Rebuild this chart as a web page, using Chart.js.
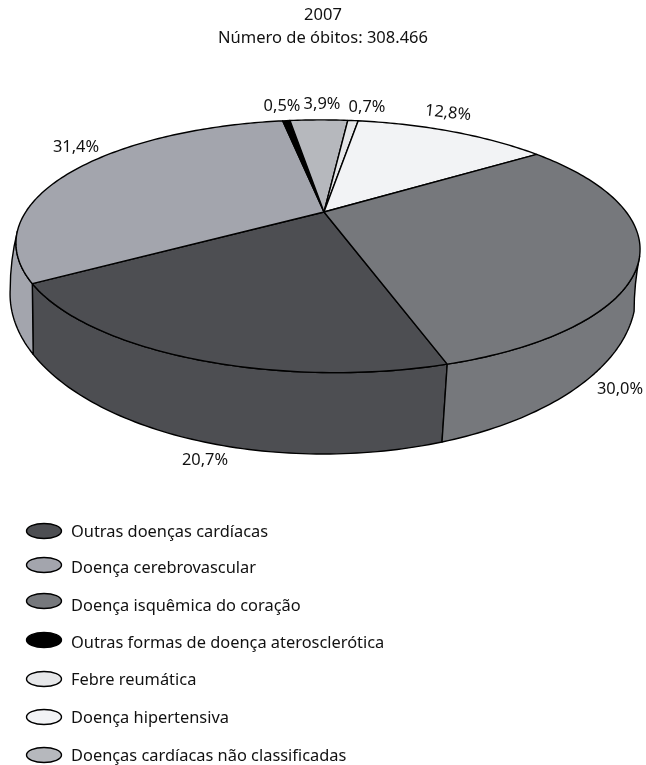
<!DOCTYPE html>
<html lang="pt-BR">
<head>
<meta charset="utf-8">
<title>Óbitos 2007</title>
<script src="https://cdn.jsdelivr.net/npm/chart.js@4"></script>
<style>
  html, body { margin: 0; padding: 0; background: #fff; }
  canvas { display: block; }
</style>
</head>
<body>
<canvas id="grafico" width="646" height="765"></canvas>
<script>
const categorias = [
  "Outras doenças cardíacas",
  "Doença cerebrovascular",
  "Outras formas de doença aterosclerótica",
  "Doenças cardíacas não classificadas",
  "Febre reumática",
  "Doença hipertensiva",
  "Doença isquêmica do coração",
];
const valores = [20.7, 31.4, 0.5, 3.9, 0.7, 12.8, 30.0];
const cores = ["#4d4e52", "#a3a5ad", "#000000", "#b6b8bd", "#e6e7e9", "#f2f3f5", "#76787c"];
const ordemLegenda = [0, 1, 6, 2, 4, 5, 3];
const titulo = ["2007", "Número de óbitos: 308.466"];

// posicao dos rotulos de valor: x, y, giro em graus
const posRotulos = [
  [205, 460, 0], [76, 147, 0], [282, 106, 0], [322, 104, 0],
  [367, 107, 0], [448, 113, 6], [620, 389, 0],
];
// altura de cada marcador e de cada texto da legenda
const yMarcadores = [531, 565, 601, 640, 679, 717, 755];
const yTextos = [532, 568, 606, 643, 680, 718, 756];

const FONTE = '"Noto Sans", sans-serif';
const GRAUS = Math.PI / 180;

// projecao em perspectiva do disco: tampo e base
const tampo = { ax: 324, ay: 212, R: 300, H: 116.8, k: 0.27, m: 0.025, s: -14, T: 8, c: 1, d: 0 };
const base = { ax: 323, ay: 254, R: 303, H: 150, k: 0.25, m: 0, s: 0, T: 0, c: 0.972, d: 4.85 * GRAUS };

function projetar(p, ang) {
  const t = ang * p.c + p.d;
  const u = Math.cos(t), v = Math.sin(t);
  const w = 1 - p.k * v - p.m * u;
  return [p.ax + (p.R * u + p.s * v) / w, p.ay + (p.H * v + p.T * u) / w];
}

function arco(ctx, p, a, b) {
  const passos = Math.max(2, Math.ceil(Math.abs(b - a) / GRAUS));
  for (let i = 0; i <= passos; i++) {
    const q = projetar(p, a + ((b - a) * i) / passos);
    ctx.lineTo(q[0], q[1]);
  }
}

const pizza3d = {
  id: "pizza3d",
  beforeDatasetsDraw(chart) {
    const ctx = chart.ctx;
    const fatias = chart.getDatasetMeta(0).data;
    const giro = Math.PI * 2;
    const iniParede = 16 * GRAUS;
    const fimParede = 167 * GRAUS;
    ctx.save();
    ctx.lineJoin = "round";
    ctx.lineWidth = 1.4;
    ctx.strokeStyle = "#000";

    // parede lateral, so a parte da frente
    fatias.forEach((f, i) => {
      for (const volta of [-giro, 0, giro]) {
        const a = Math.max(f.startAngle + volta, iniParede);
        const b = Math.min(f.endAngle + volta, fimParede);
        if (b <= a) continue;
        const qa = projetar(base, a), qb = projetar(base, b);
        const ta = projetar(tampo, a), tb = projetar(tampo, b);
        ctx.beginPath();
        arco(ctx, tampo, a, b);
        if (b === fimParede) ctx.quadraticCurveTo(qb[0], (qb[1] + tb[1]) / 2, qb[0], qb[1]);
        arco(ctx, base, b, a);
        if (a === iniParede) ctx.quadraticCurveTo(qa[0], (qa[1] + ta[1]) / 2, ta[0], ta[1]);
        ctx.closePath();
        ctx.fillStyle = cores[i];
        ctx.fill();
        ctx.stroke();
      }
    });

    // tampo
    fatias.forEach((f, i) => {
      ctx.beginPath();
      ctx.moveTo(tampo.ax, tampo.ay);
      arco(ctx, tampo, f.startAngle, f.endAngle);
      ctx.closePath();
      ctx.fillStyle = cores[i];
      ctx.fill();
      ctx.stroke();
    });

    // rotulos de valor
    ctx.fillStyle = "#111";
    ctx.font = "16.4px " + FONTE;
    ctx.textAlign = "center";
    ctx.textBaseline = "middle";
    valores.forEach((v, i) => {
      const [x, y, g] = posRotulos[i];
      ctx.save();
      ctx.translate(x, y);
      ctx.rotate(g * GRAUS);
      ctx.fillText(v.toFixed(1).replace(".", ",") + "%", 0, 0);
      ctx.restore();
    });

    // legenda
    ctx.textAlign = "left";
    ordemLegenda.forEach((idx, i) => {
      ctx.beginPath();
      ctx.ellipse(44, yMarcadores[i], 17.5, 7.5, 0, 0, giro);
      ctx.fillStyle = cores[idx];
      ctx.fill();
      ctx.stroke();
      ctx.fillStyle = "#111";
      ctx.fillText(categorias[idx], 71, yTextos[i]);
    });
    ctx.restore();
    return false;
  },
};

new Chart(document.getElementById("grafico"), {
  type: "pie",
  data: {
    labels: categorias,
    datasets: [{ data: valores, backgroundColor: cores }],
  },
  options: {
    responsive: false,
    animation: false,
    rotation: 159.7,
    plugins: {
      legend: { display: false },
      tooltip: { enabled: false },
      title: {
        display: true,
        text: titulo,
        color: "#111",
        font: { family: FONTE, size: 16.5, weight: "normal", lineHeight: 1.4 },
        padding: { top: 4, bottom: 0 },
      },
    },
  },
  plugins: [pizza3d],
});
</script>
</body>
</html>
